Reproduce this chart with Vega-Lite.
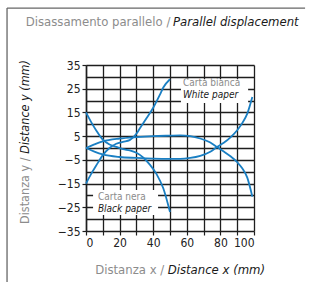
{
  "$schema": "https://vega.github.io/schema/vega-lite/v6.json",
  "width": 168,
  "height": 166,
  "autosize": {"type": "none"},
  "padding": {"left": 86, "top": 65, "right": 57, "bottom": 51},
  "background": "white",
  "config": {"view": {"stroke": null}, "font": "Liberation Sans Narrow, DejaVu Sans Condensed, Roboto, sans-serif"},
  "datasets": {
    "curves": [
      {"s": "W50", "x": 0, "y": -15}, {"s": "W50", "x": 3, "y": -11}, {"s": "W50", "x": 6, "y": -7.5}, {"s": "W50", "x": 10, "y": -3}, {"s": "W50", "x": 14, "y": 0}, {"s": "W50", "x": 18, "y": 1.8}, {"s": "W50", "x": 22, "y": 2.6}, {"s": "W50", "x": 26, "y": 3.3}, {"s": "W50", "x": 30, "y": 6}, {"s": "W50", "x": 32, "y": 8.2}, {"s": "W50", "x": 36, "y": 12.5}, {"s": "W50", "x": 40, "y": 17}, {"s": "W50", "x": 44, "y": 22.5}, {"s": "W50", "x": 46, "y": 25.5}, {"s": "W50", "x": 50, "y": 29},
      {"s": "B50", "x": 0, "y": 15}, {"s": "B50", "x": 3, "y": 11}, {"s": "B50", "x": 6, "y": 7.5}, {"s": "B50", "x": 10, "y": 3.5}, {"s": "B50", "x": 14, "y": 1.5}, {"s": "B50", "x": 18, "y": 0.5}, {"s": "B50", "x": 22, "y": -0.5}, {"s": "B50", "x": 26, "y": -1}, {"s": "B50", "x": 30, "y": -2}, {"s": "B50", "x": 34, "y": -4}, {"s": "B50", "x": 38, "y": -7}, {"s": "B50", "x": 42, "y": -11}, {"s": "B50", "x": 46, "y": -17}, {"s": "B50", "x": 50, "y": -27},
      {"s": "U100", "x": 0, "y": 0}, {"s": "U100", "x": 5, "y": 1.5}, {"s": "U100", "x": 10, "y": 2.8}, {"s": "U100", "x": 20, "y": 4}, {"s": "U100", "x": 30, "y": 4.6}, {"s": "U100", "x": 40, "y": 5}, {"s": "U100", "x": 50, "y": 5.2}, {"s": "U100", "x": 56, "y": 5.3}, {"s": "U100", "x": 62, "y": 5}, {"s": "U100", "x": 68, "y": 4}, {"s": "U100", "x": 74, "y": 2.3}, {"s": "U100", "x": 78, "y": 0.4}, {"s": "U100", "x": 82, "y": -1.5}, {"s": "U100", "x": 86, "y": -3.5}, {"s": "U100", "x": 90, "y": -6}, {"s": "U100", "x": 93, "y": -8.5}, {"s": "U100", "x": 96, "y": -12.5}, {"s": "U100", "x": 99, "y": -20.5},
      {"s": "L100", "x": 0, "y": 0}, {"s": "L100", "x": 5, "y": -1.5}, {"s": "L100", "x": 10, "y": -2.7}, {"s": "L100", "x": 20, "y": -3.8}, {"s": "L100", "x": 30, "y": -4.2}, {"s": "L100", "x": 40, "y": -4.5}, {"s": "L100", "x": 50, "y": -4.6}, {"s": "L100", "x": 56, "y": -4.6}, {"s": "L100", "x": 62, "y": -4.2}, {"s": "L100", "x": 68, "y": -3.3}, {"s": "L100", "x": 74, "y": -1.6}, {"s": "L100", "x": 78, "y": 0.4}, {"s": "L100", "x": 82, "y": 2.2}, {"s": "L100", "x": 86, "y": 4.5}, {"s": "L100", "x": 90, "y": 7.5}, {"s": "L100", "x": 93, "y": 10.5}, {"s": "L100", "x": 96, "y": 14.5}, {"s": "L100", "x": 99, "y": 21.5}
    ],
    "boxes": [
      {"x": 56.5, "x2": 96.5, "y": 29, "y2": 19},
      {"x": 4.2, "x2": 42.9, "y": -17.7, "y2": -28.3}
    ],
    "gray": [
      {"t": "Carta bianca", "x": 57.7, "y": 26},
      {"t": "Carta nera", "x": 7.1, "y": -22.1}
    ],
    "black": [
      {"t": "White paper", "x": 57.7, "y": 21.1},
      {"t": "Black paper", "x": 7.1, "y": -27}
    ],
    "titlesGray": [
      {"t": "Disassamento parallelo /", "x": 50.2, "y": 51.4},
      {"t": "Distanza x /", "x": 46.6, "y": -53.1}
    ],
    "titlesBlack": [
      {"t": "Parallel displacement", "x": 51.8, "y": 51.4},
      {"t": "Distance x (mm)", "x": 48.6, "y": -53.1}
    ]
  },
  "layer": [
    {
      "data": {"name": "boxes"},
      "mark": {"type": "rect", "fill": "white"},
      "encoding": {
        "x": {"field": "x", "type": "quantitative", "scale": {"domain": [0, 100], "nice": false, "zero": false},
          "axis": {"values": [0, 10, 20, 30, 40, 50, 60, 70, 80, 90, 100], "tickCount": 100, "format": "d", "labelExpr": "datum.value % 20 == 0 ? datum.label : ''", "labelOverlap": false, "labelBound": false, "title": null, "grid": true, "gridColor": "#1e1e1e", "gridWidth": 1.3, "gridOpacity": 1, "domain": false, "tickColor": "#1e1e1e", "tickSize": 4, "tickWidth": 1.2, "labelFontSize": 12, "labelColor": "#222", "labelPadding": 2}},
        "x2": {"field": "x2"},
        "y": {"field": "y", "type": "quantitative", "scale": {"domain": [-35, 35], "nice": false, "zero": false},
          "axis": {"values": [-35, -30, -25, -20, -15, -10, -5, 0, 5, 10, 15, 20, 25, 30, 35], "tickCount": 100, "format": "d", "labelExpr": "(datum.value + 35) % 10 == 0 ? datum.label : ''", "labelOverlap": false, "labelBound": false, "tickOpacity": {"condition": {"test": "(datum.value + 35) % 10 == 0", "value": 1}, "value": 0}, "title": null, "grid": true, "gridColor": "#1e1e1e", "gridWidth": 1.3, "gridOpacity": 1, "domain": true, "domainColor": "#1e1e1e", "domainWidth": 1.5, "tickColor": "#1e1e1e", "tickSize": 4, "tickWidth": 1.2, "labelFontSize": 12, "labelColor": "#222", "labelPadding": 2}},
        "y2": {"field": "y2"}
      }
    },
    {
      "data": {"name": "curves"},
      "mark": {"type": "line", "interpolate": "monotone", "color": "#1a7fc3", "strokeWidth": 1.8},
      "encoding": {
        "x": {"field": "x", "type": "quantitative"},
        "y": {"field": "y", "type": "quantitative"},
        "detail": {"field": "s"}
      }
    },
    {
      "data": {"name": "gray"},
      "mark": {"type": "text", "align": "left", "baseline": "alphabetic", "fontSize": 10, "color": "#8c8c8c"},
      "encoding": {
        "x": {"field": "x", "type": "quantitative"},
        "y": {"field": "y", "type": "quantitative"},
        "text": {"field": "t"}
      }
    },
    {
      "data": {"name": "black"},
      "mark": {"type": "text", "align": "left", "baseline": "alphabetic", "fontSize": 10, "fontStyle": "italic", "color": "#1a1a1a"},
      "encoding": {
        "x": {"field": "x", "type": "quantitative"},
        "y": {"field": "y", "type": "quantitative"},
        "text": {"field": "t"}
      }
    },
    {
      "data": {"name": "titlesGray"},
      "mark": {"type": "text", "align": "right", "baseline": "alphabetic", "fontSize": 13, "color": "#8c8c8c"},
      "encoding": {
        "x": {"field": "x", "type": "quantitative"},
        "y": {"field": "y", "type": "quantitative"},
        "text": {"field": "t"}
      }
    },
    {
      "data": {"name": "titlesBlack"},
      "mark": {"type": "text", "align": "left", "baseline": "alphabetic", "fontSize": 13, "fontStyle": "italic", "color": "#1a1a1a"},
      "encoding": {
        "x": {"field": "x", "type": "quantitative"},
        "y": {"field": "y", "type": "quantitative"},
        "text": {"field": "t"}
      }
    },
    {
      "data": {"values": [{"t": "Distanza y /", "x": -36.3, "y": -4}]},
      "mark": {"type": "text", "align": "right", "baseline": "middle", "angle": 270, "fontSize": 12.5, "color": "#8c8c8c"},
      "encoding": {
        "x": {"field": "x", "type": "quantitative"},
        "y": {"field": "y", "type": "quantitative"},
        "text": {"field": "t"}
      }
    },
    {
      "data": {"values": [{"t": "Distance y (mm)", "x": -36.3, "y": -2.4}]},
      "mark": {"type": "text", "align": "left", "baseline": "middle", "angle": 270, "fontSize": 12.5, "fontStyle": "italic", "color": "#1a1a1a"},
      "encoding": {
        "x": {"field": "x", "type": "quantitative"},
        "y": {"field": "y", "type": "quantitative"},
        "text": {"field": "t"}
      }
    },
    {
      "data": {"values": [{"x": -47, "y": 59, "y2": -60}]},
      "mark": {"type": "rule", "color": "#666", "strokeWidth": 1.3},
      "encoding": {
        "x": {"field": "x", "type": "quantitative"},
        "y": {"field": "y", "type": "quantitative"},
        "y2": {"field": "y2"}
      }
    },
    {
      "data": {"values": [{"x": -47, "x2": 130.4, "y": 59}]},
      "mark": {"type": "rule", "color": "#666", "strokeWidth": 1.3},
      "encoding": {
        "x": {"field": "x", "type": "quantitative"},
        "x2": {"field": "x2"},
        "y": {"field": "y", "type": "quantitative"}
      }
    }
  ]
}
